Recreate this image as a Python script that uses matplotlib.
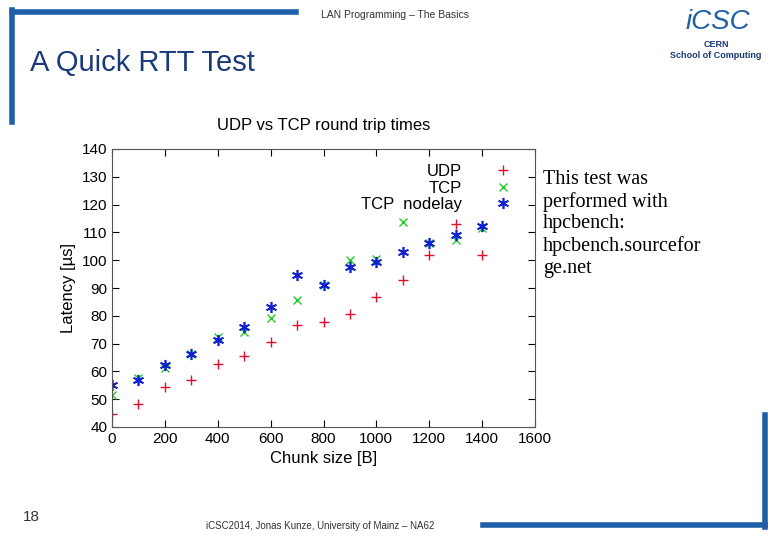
import matplotlib
matplotlib.use("Agg")
import matplotlib.pyplot as plt
from matplotlib.lines import Line2D

chunk = [0,100,200,300,400,500,600,700,800,900,1000,1100,1200,1300,1400]
udp = [44.6,48.3,54.5,56.9,62.5,65.7,70.5,76.8,77.7,80.7,86.9,92.7,101.8,113.1,101.8]
tcp = [51.6,57.6,61.3,66.2,72.3,74.3,79.2,85.7,90.9,100.1,100.6,113.8,106.2,107.2,111.5]
nodelay = [55.1,56.8,62.3,66.2,71.4,75.8,83.0,94.5,90.9,97.5,99.3,103.1,106.2,108.9,112.2]
xticks = [0,200,400,600,800,1000,1200,1400,1600]
yticks = [40,50,60,70,80,90,100,110,120,130,140]

W,H = 780,540
fig = plt.figure(figsize=(W/100,H/100), dpi=100)
fig.patch.set_facecolor("white")
sans = "Liberation Sans"

fig.add_artist(Line2D([12/W,12/W],[1-10/H,1-122/H], color="#1f5fa8", lw=4))
fig.add_artist(Line2D([12/W,296/W],[1-12/H,1-12/H], color="#1f5fa8", lw=4))
fig.add_artist(Line2D([765/W,765/W],[1-415/H,1-527/H], color="#1f5fa8", lw=4))
fig.add_artist(Line2D([483/W,765/W],[1-525/H,1-525/H], color="#1f5fa8", lw=4))
fig.text(395/W,1-15/H,"LAN Programming – The Basics",fontsize=7.5,ha="center",va="center",family=sans,color="#333")
fig.text(30/W,1-63/H,"A Quick RTT Test",fontsize=21,ha="left",va="center",family=sans,color="#1a3a7a")
fig.text(718/W,1-22/H,"iCSC",fontsize=20,ha="center",va="center",family=sans,color="#1f5fa8",style="italic")
fig.text(716/W,1-50/H,"CERN\nSchool of Computing",fontsize=6.5,ha="center",va="center",family=sans,color="#1a3a7a",weight="bold")
fig.text(31/W,1-517/H,"18",fontsize=11,ha="center",va="center",family=sans,color="#333")
fig.text(320/W,1-526/H,"iCSC2014, Jonas Kunze, University of Mainz – NA62",fontsize=7,ha="center",va="center",family=sans,color="#333")
fig.text(543/W,1-224/H,"This test was\nperformed with\nhpcbench:\nhpcbench.sourcefor\nge.net",fontsize=14.5,ha="left",va="center",family="Liberation Serif",linespacing=1.2)

ax = fig.add_axes([112/W,1-427/H,(535-112)/W,(427-149)/H])
ax.plot(chunk,udp,"+",color="#e0102a",ms=7,mew=1,label="UDP")
ax.plot(chunk,tcp,"x",color="#22cc22",ms=6,mew=1,label="TCP")
ax.plot(chunk,nodelay,marker=(6,2,0),ls="none",color="#1020d0",ms=8,mew=1.2,label="TCP  nodelay")
ax.set_xlim(0,1600); ax.set_ylim(40,140)
ax.set_xticks(xticks); ax.set_yticks(yticks)
ax.tick_params(direction="in",top=True,right=True,labelsize=11,length=5)
for l in ax.get_xticklabels()+ax.get_yticklabels(): l.set_family(sans)
for s in ax.spines.values(): s.set_color("#555")
ax.set_title("UDP vs TCP round trip times",fontsize=12,family=sans,pad=14)
ax.set_xlabel("Chunk size [B]",fontsize=12,family=sans)
ax.set_ylabel("Latency [µs]",fontsize=12,family=sans)
leg = ax.legend(loc="upper right",frameon=False,markerfirst=False,prop={"family":sans,"size":12},handletextpad=1.5,labelspacing=0.1,borderaxespad=0.5)
for t in leg.get_texts(): t.set_ha("right")
fig.savefig("out.png",dpi=100)
